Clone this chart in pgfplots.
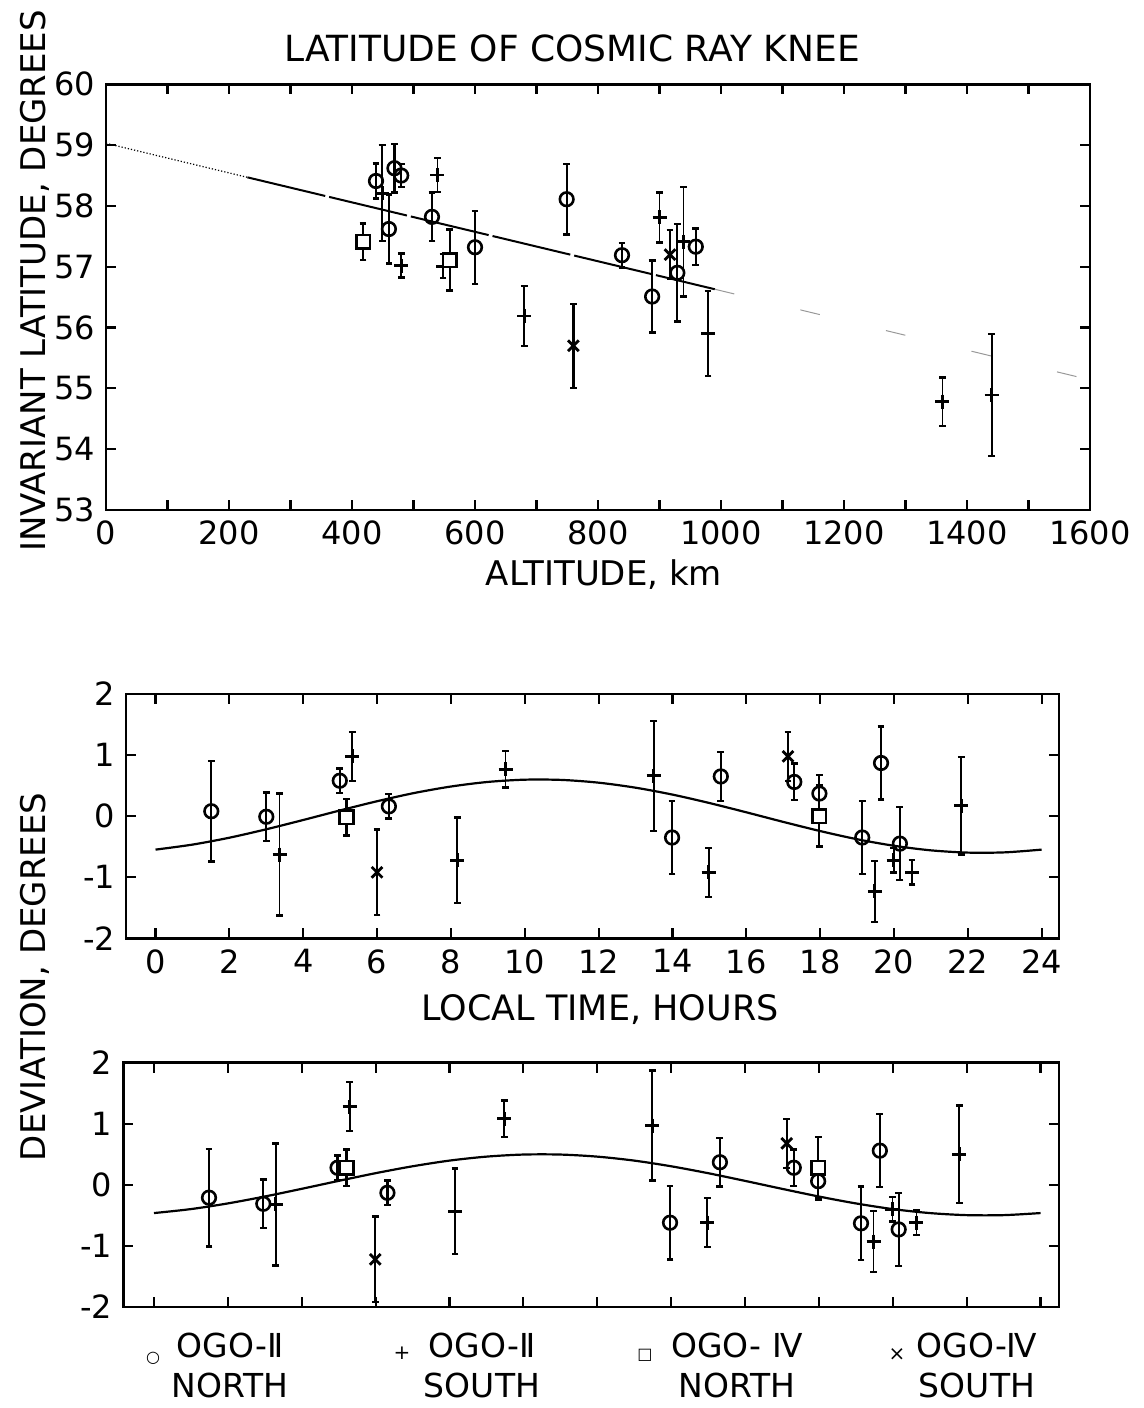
\documentclass[border=0pt]{standalone}
\usepackage{fontspec}
\setmainfont{DejaVu Sans}
\usepackage{pgfplots}
\pgfplotsset{compat=1.18}

\pgfplotstableread{
x y e
439 58.41 0.29
469 58.62 0.40
480 58.50 0.19
460 57.62 0.57
530 57.82 0.40
600 57.32 0.60
749 58.11 0.58
839 57.19 0.20
888 56.51 0.59
929 56.90 0.80
959 57.33 0.30
}\topcirc
\pgfplotstableread{
x y e
449 58.21 0.79
480 57.02 0.20
539 58.51 0.28
548 57.01 0.20
680 56.19 0.49
900 57.81 0.41
939 57.41 0.90
979 55.90 0.70
1360 54.78 0.40
1440 54.89 1.00
}\topplus
\pgfplotstableread{
x y e
418 57.41 0.30
559 57.11 0.50
}\topsq
\pgfplotstableread{
x y e
760 55.70 0.69
917 57.20 0.40
}\topx

\pgfplotstableread{
x y e
1.51 0.08 0.82
3.00 -0.01 0.40
4.99 0.58 0.20
6.32 0.16 0.20
13.99 -0.35 0.60
15.31 0.65 0.40
17.30 0.56 0.30
17.98 0.37 0.30
19.14 -0.35 0.60
19.65 0.87 0.60
20.16 -0.45 0.60
}\midcirc
\pgfplotstableread{
x y e
3.36 -0.63 1.00
5.33 0.98 0.40
8.17 -0.72 0.70
9.48 0.77 0.30
13.49 0.66 0.90
14.98 -0.92 0.40
19.48 -1.23 0.50
19.99 -0.72 0.20
20.49 -0.92 0.20
21.82 0.17 0.80
}\midplus
\pgfplotstableread{
x y e
5.17 -0.02 0.30
17.98 0.00 0.50
}\midsq
\pgfplotstableread{
x y e
6.00 -0.92 0.70
17.13 0.98 0.40
}\midx

\pgfplotstableread{
x y e
1.49 -0.21 0.80
2.96 -0.31 0.40
4.97 0.28 0.20
6.32 -0.13 0.20
13.97 -0.62 0.60
15.32 0.37 0.40
17.32 0.28 0.30
17.98 0.06 0.30
19.14 -0.63 0.60
19.65 0.56 0.60
20.16 -0.73 0.60
}\botcirc
\pgfplotstableread{
x y e
3.30 -0.32 1.00
5.30 1.28 0.40
8.15 -0.43 0.70
9.48 1.08 0.30
13.49 0.97 0.90
14.98 -0.62 0.40
19.48 -0.93 0.50
19.99 -0.40 0.20
20.64 -0.62 0.20
21.80 0.50 0.80
}\botplus
\pgfplotstableread{
x y e
5.21 0.28 0.30
17.98 0.28 0.50
}\botsq
\pgfplotstableread{
x y e
5.99 -1.22 0.70
17.13 0.68 0.40
}\botx

\pgfplotsset{
  panel/.style={
    scale only axis,
    axis line style={line width=1.4pt},
    every tick/.style={black, line width=1.1pt},
    major tick length=5pt, minor tick length=5pt,
    tick align=inside, xtick pos=both, ytick pos=both,
    ticklabel style={font=\fontsize{16}{18}\selectfont},
    xticklabel style={yshift=-2pt},
    yticklabel style={xshift=-2pt},
    /pgf/number format/assume math mode=true,
    /pgf/number format/1000 sep={},
  },
  emark/.style={error mark options={rotate=90, line width=1.2pt, mark size=1.7pt}},
  circ/.style={only marks, mark=o, mark size=3.4pt,
    mark options={solid, fill=white, line width=1.3pt},
    error bars/.cd, y dir=both, y explicit,
    error bar style={line width=1.1pt, solid},
    /pgfplots/emark},
  plu/.style={only marks, mark=+, mark size=3.5pt,
    mark options={solid, line width=1.4pt},
    error bars/.cd, y dir=both, y explicit,
    error bar style={line width=0.9pt, solid},
    /pgfplots/emark},
  squ/.style={only marks, mark=square*, mark size=3.4pt,
    mark options={solid, fill=white, line width=1.3pt},
    error bars/.cd, y dir=both, y explicit,
    error bar style={line width=1.1pt, solid},
    /pgfplots/emark},
  crs/.style={only marks, mark=x, mark size=3.8pt,
    mark options={solid, line width=1.4pt},
    error bars/.cd, y dir=both, y explicit,
    error bar style={line width=1.1pt, solid},
    /pgfplots/emark},
}

\begin{document}
\begin{tikzpicture}
\path[use as bounding box] (0,0) rectangle (572pt,704pt);

% ---------- top panel ----------
\begin{axis}[panel,
  at={(53pt,449pt)}, anchor=south west,
  width=492pt, height=212.85pt,
  xmin=0, xmax=1600, ymin=53, ymax=60,
  xtick={0,200,...,1600}, minor xtick={100,300,...,1500},
  ytick={53,54,...,60},
]
\addplot[black, line width=0.6pt, densely dotted] coordinates {(0,59.03) (230,58.47)};
\addplot[black, line width=1pt, dash pattern=on 40pt off 2pt] coordinates {(230,58.47) (990,56.63)};
\addplot[black!40, line width=0.5pt, dash pattern=on 10pt off 34pt] coordinates {(990,56.63) (1600,55.14)};
\addplot[circ] table[x=x,y=y,y error=e] {\topcirc};
\addplot[plu] table[x=x,y=y,y error=e] {\topplus};
\addplot[squ] table[x=x,y=y,y error=e] {\topsq};
\addplot[crs] table[x=x,y=y,y error=e] {\topx};
\end{axis}

% ---------- middle panel ----------
\begin{axis}[panel,
  at={(63pt,234.85pt)}, anchor=south west,
  width=466.5pt, height=122.15pt,
  xmin=-0.8, xmax=24.47, ymin=-2, ymax=2,
  xtick={0,2,...,24}, ytick={-2,-1,0,1,2},
]
\addplot[black, line width=1.1pt, smooth] coordinates {
(0,-0.548) (1,-0.466) (2,-0.353) (3,-0.215) (4,-0.063) (5,0.094)
(6,0.244) (7,0.378) (8,0.485) (9,0.560) (10,0.597) (11,0.593)
(12,0.548) (13,0.466) (14,0.353) (15,0.215) (16,0.063) (17,-0.094)
(18,-0.244) (19,-0.378) (20,-0.485) (21,-0.560) (22,-0.597) (23,-0.593) (24,-0.548)};
\addplot[circ] table[x=x,y=y,y error=e] {\midcirc};
\addplot[plu] table[x=x,y=y,y error=e] {\midplus};
\addplot[squ] table[x=x,y=y,y error=e] {\midsq};
\addplot[crs] table[x=x,y=y,y error=e] {\midx};
\end{axis}

% ---------- bottom panel ----------
\begin{axis}[panel,
  at={(61.65pt,50.5pt)}, anchor=south west,
  width=467.85pt, height=122.15pt,
  xmin=-0.83, xmax=24.5, ymin=-2, ymax=2,
  xtick={0,2,...,24}, xticklabels={}, ytick={-2,-1,0,1,2},
]
\addplot[black, line width=1.1pt, smooth] coordinates {
(0,-0.462) (1,-0.397) (2,-0.304) (3,-0.191) (4,-0.065) (5,0.065)
(6,0.191) (7,0.304) (8,0.397) (9,0.462) (10,0.496) (11,0.496)
(12,0.462) (13,0.397) (14,0.304) (15,0.191) (16,0.065) (17,-0.065)
(18,-0.191) (19,-0.304) (20,-0.397) (21,-0.462) (22,-0.496) (23,-0.496) (24,-0.462)};
\addplot[circ] table[x=x,y=y,y error=e] {\botcirc};
\addplot[plu] table[x=x,y=y,y error=e] {\botplus};
\addplot[squ] table[x=x,y=y,y error=e] {\botsq};
\addplot[crs] table[x=x,y=y,y error=e] {\botx};
\end{axis}

% ---------- texts ----------
\node[font=\fontsize{18}{20}\selectfont] at (286pt,680pt) {LATITUDE OF COSMIC RAY KNEE};
\node[font=\fontsize{17}{20}\selectfont] at (302pt,416.5pt) {ALTITUDE, km};
\node[font=\fontsize{17}{20}\selectfont, rotate=90] at (17.5pt,563.5pt) {INVARIANT LATITUDE, DEGREES};
\node[font=\fontsize{17.5}{20}\selectfont] at (300pt,199pt) {LOCAL TIME, HOURS};
\node[font=\fontsize{17}{20}\selectfont, rotate=90] at (17.5pt,215.5pt) {DEVIATION, DEGREES};

% ---------- legend ----------
\node[font=\fontsize{8}{8}\selectfont] at (76.5pt,25pt) {○};
\node[font=\fontsize{10}{10}\selectfont] at (201pt,27.5pt) {+};
\node[font=\fontsize{8}{8}\selectfont] at (322.5pt,26.5pt) {□};
\node[font=\fontsize{10}{10}\selectfont] at (448.5pt,26.5pt) {×};
\node[font=\fontsize{16.5}{20}\selectfont, align=center] at (115pt,21.5pt) {OGO-Ⅱ\\NORTH};
\node[font=\fontsize{16.5}{20}\selectfont, align=center] at (241pt,21.5pt) {OGO-Ⅱ\\SOUTH};
\node[font=\fontsize{16.5}{20}\selectfont, align=center] at (368.5pt,21.5pt) {OGO- Ⅳ\\NORTH};
\node[font=\fontsize{16.5}{20}\selectfont, align=center] at (488.5pt,21.5pt) {OGO-Ⅳ\\SOUTH};
\end{tikzpicture}
\end{document}
